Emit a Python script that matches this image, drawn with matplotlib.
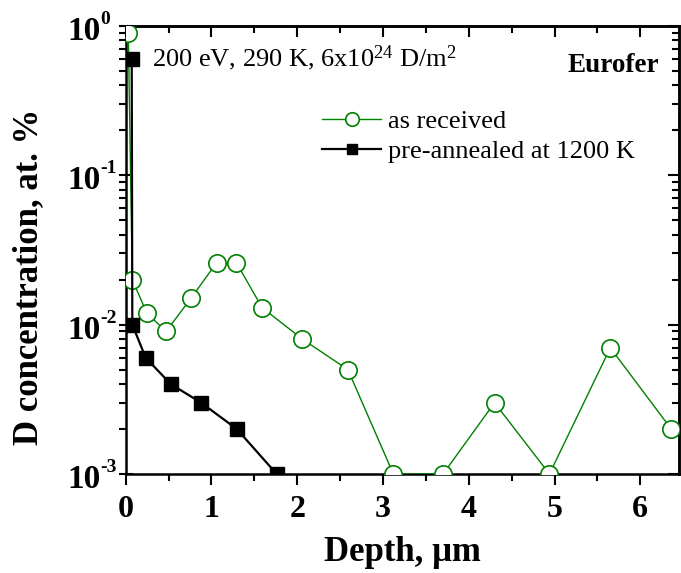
import math
import matplotlib
matplotlib.use("Agg")
import matplotlib.pyplot as plt
from matplotlib.ticker import FixedLocator, LogLocator, NullFormatter, FuncFormatter, MultipleLocator

plt.rcParams['font.family'] = ['Liberation Serif', 'DejaVu Serif']
plt.rcParams['mathtext.fontset'] = 'custom'
plt.rcParams['mathtext.rm'] = 'Liberation Serif'
plt.rcParams['mathtext.bf'] = 'Liberation Serif:bold'
plt.rcParams['mathtext.it'] = 'Liberation Serif:italic'

# Data
as_received_x = [0.03, 0.077, 0.245, 0.47, 0.76, 1.06, 1.29, 1.59, 2.06, 2.59, 3.12, 3.70, 4.30, 4.94, 5.65, 6.36]
as_received_y = [0.9, 0.02, 0.012, 0.009, 0.015, 0.026, 0.026, 0.013, 0.008, 0.005, 0.001, 0.001, 0.003, 0.001, 0.007, 0.002]
annealed_x = [0.07, 0.077, 0.233, 0.525, 0.88, 1.295, 1.76]
annealed_y = [0.6, 0.01, 0.006, 0.004, 0.003, 0.002, 0.001]

labels = ["as received", "pre-annealed at 1200 K"]
x_ticks = [0, 1, 2, 3, 4, 5, 6]
y_ticks = [1e-3, 1e-2, 1e-1, 1e0]

fig = plt.figure(figsize=(6.81, 5.73), dpi=100)
ax = fig.add_axes([0.1846, 0.1728, 0.8124, 0.7818])

green = '#008000'
ax.plot(as_received_x, as_received_y, '-o', color=green, lw=1.0, ms=12.5,
        mfc='white', mec=green, mew=1.2, label=labels[0], zorder=3)
ax.plot(annealed_x, annealed_y, '-s', color='black', lw=1.6, ms=9.5,
        mfc='black', mec='black', label=labels[1], zorder=4)

ax.set_yscale('log')
ax.set_xlim(0, 6.45)
ax.set_ylim(1e-3, 1e0)

ax.xaxis.set_major_locator(FixedLocator(x_ticks))
ax.xaxis.set_minor_locator(MultipleLocator(0.5))
ax.yaxis.set_major_locator(FixedLocator(y_ticks))
ax.yaxis.set_minor_locator(LogLocator(base=10, subs=range(2, 10)))
ax.yaxis.set_minor_formatter(NullFormatter())
ax.yaxis.set_major_formatter(NullFormatter())
ax.xaxis.set_major_formatter(FuncFormatter(lambda v, p: '%d' % v))

ax.tick_params(axis='x', which='major', direction='out', length=8, width=1.5,
               labelsize=23, pad=7, top=False)
ax.tick_params(axis='x', which='minor', direction='out', length=5, width=1.5, top=False)
ax.tick_params(axis='y', which='major', direction='inout', length=10, width=1.5, right=False)
ax.tick_params(axis='y', which='minor', direction='out', length=5, width=1.5, right=False)
for lab in ax.get_xticklabels():
    lab.set_fontweight('bold')

# y tick labels: "10" with superscript exponent (hyphen minus as in the original)
for v in y_ticks:
    e = int(round(math.log10(v)))
    ax.annotate('10', xy=(0, v), xycoords=('axes fraction', 'data'),
                xytext=(-25, -14), textcoords='offset pixels', ha='right', va='baseline',
                fontsize=24, fontweight='bold', annotation_clip=False)
    ax.annotate('%d' % e, xy=(0, v), xycoords=('axes fraction', 'data'),
                xytext=(-25, 2), textcoords='offset pixels', ha='left', va='baseline',
                fontsize=14, fontweight='bold', annotation_clip=False)

for s in ax.spines.values():
    s.set_linewidth(1.8)

# Top / right inward ticks
sec_x = ax.secondary_xaxis('top')
sec_x.xaxis.set_major_locator(FixedLocator(x_ticks))
sec_x.xaxis.set_minor_locator(MultipleLocator(0.5))
sec_x.tick_params(which='major', direction='in', length=8, width=1.5, labeltop=False)
sec_x.tick_params(which='minor', direction='in', length=5, width=1.5)
sec_x.spines['top'].set_linewidth(1.8)

sec_y = ax.secondary_yaxis('right')
sec_y.set_yscale('log')
sec_y.yaxis.set_major_locator(FixedLocator(y_ticks))
sec_y.yaxis.set_minor_locator(LogLocator(base=10, subs=range(2, 10)))
sec_y.yaxis.set_minor_formatter(NullFormatter())
sec_y.tick_params(which='major', direction='in', length=8, width=1.5, labelright=False)
sec_y.tick_params(which='minor', direction='in', length=5, width=1.5)
sec_y.spines['right'].set_linewidth(1.8)

ax.set_xlabel('Depth, μm', fontsize=25, fontweight='bold', labelpad=8.5)
ax.set_ylabel('D concentration, at. %', fontsize=25, fontweight='bold')
ax.yaxis.set_label_coords(-0.146, 0.44)

ax.text(0.047, 0.909, r'200 eV, 290 K, 6x10$^{24}$ D/m$^{2}$', transform=ax.transAxes,
        fontsize=19, va='baseline', ha='left')
ax.text(0.964, 0.898, 'Eurofer', transform=ax.transAxes, fontsize=19.5,
        fontweight='bold', va='baseline', ha='right')

leg = ax.legend(loc='upper left', bbox_to_anchor=(0.354, 0.813), frameon=False,
                fontsize=19, handlelength=2.27, handletextpad=0.25, labelspacing=0.25,
                borderaxespad=0, borderpad=0, markerscale=0.78)

fig.savefig('out.png', dpi=100)
